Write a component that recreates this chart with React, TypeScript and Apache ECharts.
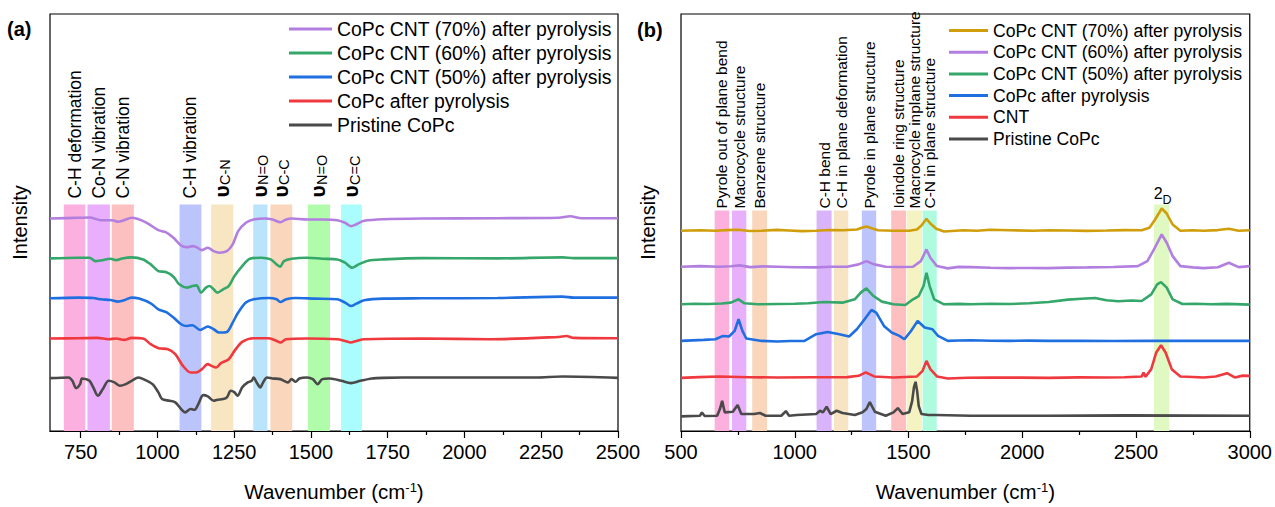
import React, { useEffect, useRef } from 'react';
import * as echarts from 'echarts';

type Pt = [number, number];

const FONT = '"Liberation Sans", Arial, Helvetica, sans-serif';

// ---------------- Panel (a): FTIR ----------------
const xTicksA = [750, 1000, 1250, 1500, 1750, 2000, 2250, 2500];
const xMinorTicksA = [875, 1125, 1375, 1625, 1875, 2125, 2375];
const namesA = [
  'CoPc CNT (70%) after pyrolysis',
  'CoPc CNT (60%) after pyrolysis',
  'CoPc CNT (50%) after pyrolysis',
  'CoPc after pyrolysis',
  'Pristine CoPc',
];
const colorsA = ['#b27fe0', '#35a76a', '#1f6fe0', '#f0393e', '#4a4a4a'];

const ftirCnt70: Pt[] = [[650,213],[742,213.7],[779,214],[816,211.3],[853,211.3],[872,209.7],[891,211.3],[916,213.7],[934,212.7],[965,208.7],[1003,201.3],[1027,199.3],[1052,193.7],[1077,186],[1096,184.3],[1114,185.3],[1127,184.3],[1145,181.3],[1164,183.7],[1183,180.3],[1201,178.7],[1226,180.3],[1245,187],[1263,200.3],[1288,208.7],[1313,212],[1350,213],[1375,212],[1400,209.3],[1419,212],[1437,213],[1487,212],[1537,212],[1586,211.3],[1611,208.7],[1630,205.3],[1648,207.3],[1673,210.7],[1735,212.3],[1860,213],[2108,213.3],[2307,213.7],[2344,215.3],[2381,213.3],[2500,213.3]];
const ftirCnt60: Pt[] = [[650,173],[742,173.7],[779,173.7],[798,170.3],[816,171],[847,172.7],[866,171.3],[885,173],[916,174],[953,172],[978,167],[1003,160.3],[1027,159.3],[1052,154.7],[1071,147],[1096,143.7],[1114,145.3],[1127,146],[1142,138.7],[1158,143.7],[1170,145.3],[1183,142],[1195,138.7],[1214,142],[1232,145.3],[1251,155.3],[1276,165.3],[1301,172.7],[1338,173.7],[1369,172],[1388,167],[1400,164.7],[1412,170.3],[1437,172.7],[1487,173.7],[1537,172.7],[1586,172],[1611,168.7],[1634,163.7],[1655,167],[1686,170.7],[1735,172],[1860,173.3],[2108,173],[2319,174],[2356,173.3],[2500,173.3]];
const ftirCnt50: Pt[] = [[650,133],[742,133.7],[791,133.3],[816,132],[847,131.3],[872,129.7],[891,131],[916,133.7],[940,132.7],[978,128],[1003,122],[1027,119.3],[1052,113.7],[1077,107],[1096,105.3],[1114,106],[1139,101.3],[1164,104.7],[1183,102],[1201,98.7],[1226,99.3],[1245,108.7],[1263,118.7],[1288,128.7],[1313,132],[1363,133.3],[1388,132],[1400,129.3],[1419,132],[1450,133.3],[1512,132.7],[1586,132],[1611,128.7],[1630,125.3],[1648,127.7],[1673,131],[1735,132.7],[1860,133],[2108,133.3],[2319,134.7],[2356,133.7],[2500,133.7]];
const ftirCoPcPyro: Pt[] = [[650,92.7],[742,93],[804,93.3],[841,92],[866,92.7],[891,91.3],[916,93.3],[953,92.7],[978,87],[1003,83],[1034,82],[1058,77],[1083,65.3],[1108,58.7],[1127,58.7],[1145,62],[1164,67],[1176,65.3],[1191,63.7],[1207,68],[1232,72],[1251,80.3],[1276,89.3],[1313,93],[1363,93],[1388,90.3],[1400,88.7],[1419,92],[1487,92.7],[1586,92],[1611,90.3],[1630,88.7],[1648,90.3],[1673,92],[1860,92.7],[2083,92],[2307,94.3],[2332,95.3],[2356,93.3],[2500,93]];
const ftirPristine: Pt[] = [[650,53],[711,53.7],[723,50.3],[735,43],[748,47],[754,52.7],[767,52],[779,50.3],[791,43.7],[806,35.3],[822,42],[841,50.3],[860,48.7],[878,45.3],[897,47],[916,50.3],[938,53.7],[959,51.3],[984,47],[1003,38.7],[1015,32],[1040,30.3],[1058,28.7],[1077,22],[1090,18.7],[1108,22],[1121,21.3],[1133,27],[1149,36],[1164,34.7],[1183,30.3],[1195,31.3],[1214,32],[1226,33.7],[1239,40.3],[1251,38.7],[1261,35.3],[1276,43.7],[1294,48.7],[1307,50.3],[1313,53.7],[1323,48.7],[1335,43.7],[1344,48.7],[1357,53.7],[1375,52.7],[1400,52],[1412,50.3],[1425,48.7],[1437,52],[1450,49.3],[1462,52.7],[1487,53.7],[1506,52],[1522,47],[1537,52],[1562,52.7],[1599,50.3],[1630,48],[1661,50.3],[1698,52.7],[1735,53.3],[1860,53.7],[2232,53.7],[2319,54.7],[2500,53.3]];
const seriesA = [ftirCnt70, ftirCnt60, ftirCnt50, ftirCoPcPyro, ftirPristine];

const bandsA: Pt[] = [[695,765],[772,845],[851,923],[1072,1143],[1175,1247],[1312,1358],[1368,1439],[1490,1562],[1598,1666]];
const bandColorsA = ['#fbb0df','#e9aefc','#fdc0c0','#bcc4fc','#f8e6c2','#bae3fc','#f9d6bc','#b0fcab','#abfcfc'];
const bandLabelsA = ['C-H deformation','Co-N vibration','C-N vibration','C-H vibration','υ_C-N','υ_N=O','υ_C-C','υ_N=O','υ_C=C'];

// ---------------- Panel (b): Raman ----------------
const namesB = [
  'CoPc CNT (70%) after pyrolysis',
  'CoPc CNT (60%) after pyrolysis',
  'CoPc CNT (50%) after pyrolysis',
  'CoPc after pyrolysis',
  'CNT',
  'Pristine CoPc',
];
const colorsB = ['#d09e0a', '#b27fe0', '#35a76a', '#1f6fe0', '#f0393e', '#4a4a4a'];

const ramanCnt70: Pt[] = [[500,200.7],[583,201.3],[651,200.7],[700,201.4],[753,201.7],[800,200.5],[855,200.7],[920,201.6],[975,201],[1030,200.4],[1094,200.7],[1150,201.5],[1213,201.3],[1273,202],[1298,204],[1315,205],[1341,203],[1366,201.3],[1434,200.7],[1503,200.7],[1537,202],[1557,206],[1579,212.7],[1596,208],[1622,202.7],[1656,200],[1741,201.3],[1800,200.8],[1860,201.7],[1946,201.3],[2048,200.7],[2120,201.2],[2201,201],[2280,200.6],[2371,201],[2450,201.4],[2525,201.3],[2559,203.7],[2584,212],[2613,223],[2635,218],[2661,207],[2695,200.7],[2750,201.3],[2797,200.7],[2860,201.4],[2908,202.7],[2951,200.7],[3000,201.3]];
const ramanCnt60: Pt[] = [[500,164.7],[583,165.3],[668,164.7],[720,165.2],[758,166],[804,164.3],[860,165],[924,164.7],[1000,164.2],[1094,164],[1160,164.6],[1230,164.7],[1281,167],[1315,170.3],[1349,167],[1400,164.7],[1460,164.4],[1520,164.7],[1554,170.3],[1579,182],[1596,173.7],[1625,165.3],[1673,163],[1720,164.5],[1775,164.3],[1860,163.6],[1946,163.3],[2030,163.4],[2116,163.3],[2200,163.8],[2286,164],[2400,164.4],[2508,165.3],[2550,170.3],[2579,182],[2613,197],[2635,188.7],[2661,175.3],[2695,165.3],[2750,164],[2797,163.3],[2860,164.2],[2908,168.7],[2951,164.3],[3000,165.3]];
const ramanCnt50: Pt[] = [[500,127],[560,127.6],[617,127.3],[680,127.8],[719,128.7],[753,132],[779,128],[838,127],[924,127.3],[1000,127.6],[1060,128],[1128,129.3],[1213,128.7],[1264,132],[1290,138.7],[1315,143],[1346,135.3],[1383,129.7],[1434,127],[1486,126.3],[1520,132],[1545,135.3],[1566,145.3],[1579,158.7],[1593,145.3],[1613,132],[1656,127],[1720,127.4],[1775,127],[1860,127.5],[1946,127.3],[2030,128],[2116,129.3],[2201,131.7],[2260,132.5],[2320,133.3],[2370,131],[2422,130],[2480,130.8],[2525,130.3],[2567,137],[2593,147],[2610,149.3],[2635,143.7],[2661,132],[2704,127.3],[2760,127.6],[2831,127],[2900,127.4],[3000,126.7]];
const ramanCoPcPyro: Pt[] = [[500,90.3],[550,90.8],[600,91.3],[651,92],[685,95.3],[711,94.7],[736,100.3],[753,112],[770,100.3],[787,92.7],[855,90.3],[924,89.7],[980,90.2],[1043,90.3],[1094,97],[1145,99.3],[1196,97],[1239,94.7],[1273,102],[1307,112],[1337,121.3],[1358,118.7],[1392,105.3],[1426,98.7],[1460,95.3],[1482,92],[1511,100.3],[1540,110.3],[1571,103.7],[1605,102],[1630,95.3],[1673,90.3],[1720,90.7],[1775,91],[1860,90.4],[1946,90.3],[2030,90.6],[2116,90.3],[2250,90.5],[2400,90.2],[2550,90.5],[2700,90.3],[2850,90.4],[3000,90.3]];
const ramanCNT: Pt[] = [[500,53.3],[580,54],[668,54.7],[800,53.9],[924,53.7],[1080,53.9],[1230,54],[1281,55.3],[1312,58.7],[1349,54.7],[1434,53.7],[1537,54.7],[1562,60.3],[1579,70.3],[1596,62],[1625,54.7],[1673,52.7],[1760,53.4],[1860,53.7],[2000,53.5],[2116,53.3],[2250,53.8],[2371,53.7],[2450,53.9],[2525,54.7],[2533,58.7],[2542,54.3],[2567,62],[2589,78.7],[2610,86],[2630,78.7],[2657,62],[2695,54.7],[2750,54.2],[2797,53.7],[2850,54.6],[2900,58],[2934,53.7],[2970,55.5],[3000,55.3]];
const ramanPristine: Pt[] = [[500,14.7],[583,15.3],[592,18.5],[604,15],[659,15.3],[671,22],[681,30.3],[692,18.7],[728,19.3],[749,26],[765,17],[821,17],[847,18],[872,15.3],[941,15.3],[961,20],[975,15.3],[1009,16],[1094,17],[1111,20.3],[1124,18.7],[1140,24.3],[1158,17],[1184,20.3],[1210,18],[1264,16],[1298,18.7],[1315,22],[1330,29],[1352,19.3],[1400,15.3],[1434,18.7],[1453,23],[1474,17],[1503,18.7],[1516,30],[1524,44],[1531,49.3],[1538,40],[1545,25],[1557,17],[1588,16],[1622,16],[1775,15.3],[2116,15.3],[2457,15.7],[3000,15.3]];
const seriesB = [ramanCnt70, ramanCnt60, ramanCnt50, ramanCoPcPyro, ramanCNT, ramanPristine];

const bandsB: Pt[] = [[648,712],[724,787],[813,878],[1096,1162],[1172,1235],[1295,1358],[1424,1489],[1492,1559],[1562,1624],[2579,2646]];
const bandColorsB = ['#fdb0de','#e8b0fb','#f9d6bc','#d9b4fb','#f6e4c2','#bcc4fb','#fdbfbf','#f6f3c2','#aefbe0','#e0f9c2'];
const bandLabelsB = ['Pyrole out of plane bend','Macrocycle structure','Benzene structure','C-H bend','C-H in plane deformation','Pyrole in plane structure','Ioindole ring structure','Macrocycle inplane structure','C-N in plane structure','2_D'];

const Y_MAX = 418;

function buildOption(): any {
  const lineSeries = (prefix: string, names: string[], colors: string[], data: Pt[][], xi: number, yi: number, smooth: number | boolean) =>
    names.map((n, i) => ({
      type: 'line',
      name: prefix + n,
      xAxisIndex: xi,
      yAxisIndex: yi,
      data: data[i],
      symbol: 'none',
      showSymbol: false,
      smooth,
      z: 3,
      lineStyle: { color: colors[i], width: 2.6 },
      itemStyle: { color: colors[i] },
    }));

  const bandSeries = (name: string, bands: Pt[], colors: string[], xi: number, yi: number, tops: number[]) => ({
    type: 'line',
    name,
    xAxisIndex: xi,
    yAxisIndex: yi,
    data: [],
    silent: true,
    markArea: {
      silent: true,
      z: 1,
      data: bands.map((b, i) => [
        { xAxis: b[0], yAxis: 0, itemStyle: { color: colors[i], opacity: 1 } },
        { xAxis: b[1], yAxis: tops[i] },
      ]),
    },
  });

  const axisLine = { show: true, lineStyle: { color: '#000', width: 1.2 } };
  const labelStyle = { color: '#000', fontSize: 20, fontFamily: FONT, margin: 11, formatter: (v: number) => String(v) };
  const xName = '{t|Wavenumber (cm}{s|-1}{t|)}';
  const xNameStyle = {
    rich: {
      t: { fontSize: 20.5, fontFamily: FONT, color: '#000' },
      s: { fontSize: 13, fontFamily: FONT, color: '#000', verticalAlign: 'top' },
    },
  };
  const legendBase = {
    orient: 'vertical',
    padding: 0,
    selectedMode: false,
    icon: 'rect',
    itemHeight: 3,
    formatter: (n: string) => n.slice(2),
  };

  return {
    animation: false,
    textStyle: { fontFamily: FONT },
    grid: [
      { left: 50, top: 14, width: 568, height: 418, show: true, borderColor: '#000', borderWidth: 1.2, backgroundColor: 'transparent' },
      { left: 681, top: 14, width: 569, height: 418, show: true, borderColor: '#000', borderWidth: 1.2, backgroundColor: 'transparent' },
    ],
    legend: [
      {
        ...legendBase,
        data: namesA.map((n) => 'a:' + n),
        left: 289,
        top: 19,
        itemWidth: 43,
        itemGap: 4,
        textStyle: { fontSize: 19.4, color: '#000', fontFamily: FONT, lineHeight: 20 },
      },
      {
        ...legendBase,
        data: namesB.map((n) => 'b:' + n),
        left: 949,
        top: 21.5,
        itemWidth: 39,
        itemGap: 3.7,
        textStyle: { fontSize: 17.6, color: '#000', fontFamily: FONT, lineHeight: 18 },
      },
    ],
    xAxis: [
      {
        type: 'value', gridIndex: 0, min: 650, max: 2500, z: 5,
        axisLine,
        axisTick: { show: true, length: 7, customValues: xTicksA, lineStyle: { color: '#000', width: 1.2 } },
        axisLabel: { ...labelStyle, customValues: xTicksA },
        splitLine: { show: false },
        name: xName, nameLocation: 'middle', nameGap: 50, nameTextStyle: xNameStyle,
      },
      {
        type: 'value', gridIndex: 0, min: 650, max: 2500, position: 'bottom', z: 5,
        axisLine: { show: false },
        axisTick: { show: true, length: 4, customValues: xMinorTicksA, lineStyle: { color: '#000', width: 1.2 } },
        axisLabel: { show: false },
        splitLine: { show: false },
      },
      {
        type: 'value', gridIndex: 1, min: 500, max: 3000, interval: 500, z: 5,
        axisLine,
        axisTick: { show: true, length: 7, lineStyle: { color: '#000', width: 1.2 } },
        minorTick: { show: true, splitNumber: 2, length: 4, lineStyle: { color: '#000', width: 1.2 } },
        axisLabel: labelStyle,
        splitLine: { show: false },
        name: xName, nameLocation: 'middle', nameGap: 50, nameTextStyle: xNameStyle,
      },
    ],
    yAxis: [
      {
        type: 'value', gridIndex: 0, min: 0, max: Y_MAX,
        axisLine: { show: false }, axisTick: { show: false }, axisLabel: { show: false }, splitLine: { show: false },
        name: 'Intensity', nameLocation: 'middle', nameRotate: 90, nameGap: 20,
        nameTextStyle: { fontSize: 20, color: '#000', fontFamily: FONT },
      },
      {
        type: 'value', gridIndex: 1, min: 0, max: Y_MAX,
        axisLine: { show: false }, axisTick: { show: false }, axisLabel: { show: false }, splitLine: { show: false },
        name: 'Intensity', nameLocation: 'middle', nameRotate: 90, nameGap: 23,
        nameTextStyle: { fontSize: 20, color: '#000', fontFamily: FONT },
      },
    ],
    series: [
      bandSeries('bandsA', bandsA, bandColorsA, 0, 0, bandsA.map(() => 227)),
      bandSeries('bandsB', bandsB, bandColorsB, 2, 1, bandsB.map((_, i) => (i === bandsB.length - 1 ? 227 : 221))),
      ...lineSeries('a:', namesA, colorsA, seriesA, 0, 0, 0.3),
      ...lineSeries('b:', namesB, colorsB, seriesB, 2, 1, false),
    ],
  };
}

function buildGraphics(chart: any): any[] {
  const X = (axis: number, v: number) => chart.convertToPixel({ xAxisIndex: axis }, v) as number;
  const Y = (axis: number, h: number) => chart.convertToPixel({ yAxisIndex: axis }, h) as number;
  const txt = (x: number, y: number, text: string, size: number, rot: boolean, extra: any = {}) => ({
    type: 'text',
    x,
    y,
    rotation: rot ? Math.PI / 2 : 0,
    silent: true,
    z: 20,
    style: { text, fontSize: size, fontFamily: FONT, fill: '#000', align: 'left', verticalAlign: 'middle', ...extra },
  });

  const out: any[] = [];
  // panel letters
  out.push(txt(7, 29, '(a)', 20, false, { fontWeight: 'bold' }));
  out.push(txt(637, 30, '(b)', 20, false, { fontWeight: 'bold' }));

  // panel (a) labels
  bandLabelsA.forEach((lab, i) => {
    const cx = X(0, (bandsA[i][0] + bandsA[i][1]) / 2);
    if (lab.startsWith('υ_')) {
      const yb = Y(0, 234);
      out.push(txt(cx - 1, yb, 'υ', 21, true, { fontWeight: 'bold' }));
      out.push(txt(cx + 3, yb - 12.5, lab.slice(2), 14.5, true));
    } else {
      out.push(txt(cx, Y(0, 233), lab, 17.5, true));
    }
  });

  // panel (b) labels
  bandLabelsB.forEach((lab, i) => {
    const cx = X(2, (bandsB[i][0] + bandsB[i][1]) / 2);
    if (lab.includes('_')) {
      const [a, b] = lab.split('_');
      out.push(txt(cx + 1, Y(1, 230), a, 16, false, { align: 'right', verticalAlign: 'bottom' }));
      out.push(txt(cx + 1, Y(1, 225), b, 12.5, false, { align: 'left', verticalAlign: 'bottom' }));
    } else {
      out.push(txt(cx, Y(1, 223), lab, 15.5, true));
    }
  });
  return out;
}

export default function App() {
  const ref = useRef<HTMLDivElement>(null);
  useEffect(() => {
    const el = ref.current;
    if (!el) return;
    const chart = echarts.init(el, null, { renderer: 'svg' });
    chart.setOption(buildOption());
    chart.setOption({ graphic: buildGraphics(chart) });
    return () => chart.dispose();
  }, []);
  return (
    <div
      ref={ref}
      style={{ position: 'absolute', left: 0, top: 0, width: 1275, height: 507, background: '#fff' }}
    />
  );
}
